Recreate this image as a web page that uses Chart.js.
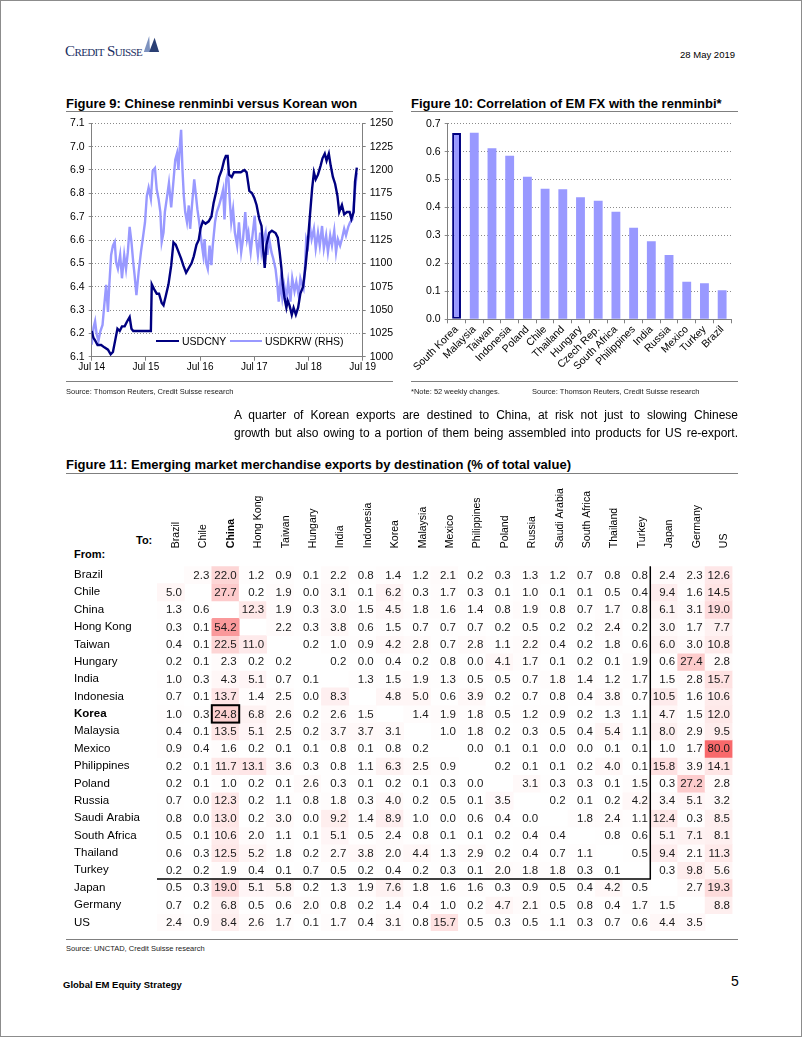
<!DOCTYPE html>
<html>
<head>
<meta charset="utf-8">
<script src="https://cdn.jsdelivr.net/npm/chart.js@4.4.1/dist/chart.umd.min.js"></script>
<style>
    html, body { margin: 0; padding: 0; background: #fff; }
    #page { position: relative; width: 802px; height: 1037px; box-sizing: border-box; border: 1px solid #8c8c8c;
            font-family: "Liberation Sans", Arial, sans-serif; color: #000; overflow: hidden; }
    .abs { position: absolute; white-space: nowrap; }
    .title { font-weight: bold; font-size: 13px; }
    .rule { position: absolute; height: 0; border-top: 1.5px solid #7f7f7f; }
    .src { font-size: 7.5px; color: #222; }
    canvas { position: absolute; }
    .para { position: absolute; left: 233px; width: 504px; font-size: 12px; line-height: 18px;
            text-align: justify; text-align-last: justify; white-space: nowrap; }
</style>
</head>
<body>
<div id="page">
    <div class="abs" style="left:64px; top:42px; font-family:'Liberation Serif','DejaVu Serif',serif; font-variant:small-caps; font-size:15px; color:#1b2f63; letter-spacing:-0.6px;">Credit Suisse</div>
    <svg class="abs" style="left:141px; top:34px;" width="18" height="18" viewBox="0 0 20 20">
        <path d="M2 19 L8 1 L9 19 Z" fill="#7d92bf"/>
        <path d="M8 19 L14 3 L19 19 Z" fill="#2a3f73"/>
    </svg>
    <div class="abs" style="right:66px; top:48px; font-size:9.5px;">28 May 2019</div>

    <div class="abs title" style="left:65px; top:95px;">Figure 9: Chinese renminbi versus Korean won</div>
    <div class="rule" style="left:65px; top:110px; width:327px;"></div>
    <div class="abs title" style="left:410px; top:95px;">Figure 10: Correlation of EM FX with the renminbi*</div>
    <div class="rule" style="left:410px; top:110px; width:327px;"></div>

    <canvas id="fxChart" width="340" height="265" style="left:60px; top:112px;"></canvas>
    <div class="abs" style="left:155px; top:339px; width:23px; border-top:2.5px solid #000080;"></div>
    <div class="abs" style="left:181px; top:334px; font-size:10.5px;">USDCNY</div>
    <div class="abs" style="left:229px; top:339px; width:32px; border-top:2.5px solid #9999ff;"></div>
    <div class="abs" style="left:264px; top:334px; font-size:10.5px;">USDKRW (RHS)</div>

    <canvas id="corrChart" width="335" height="272" style="left:405px; top:112px;"></canvas>

    <div class="rule" style="left:65px; top:380px; width:327px;"></div>
    <div class="abs src" style="left:65px; top:386px;">Source: Thomson Reuters, Credit Suisse research</div>
    <div class="rule" style="left:410px; top:380px; width:327px;"></div>
    <div class="abs src" style="left:410px; top:386px;">*Note: 52 weekly changes.</div>
    <div class="abs src" style="left:531px; top:386px;">Source: Thomson Reuters, Credit Suisse research</div>

    <div class="para" style="top:405px;">A quarter of Korean exports are destined to China, at risk not just to slowing Chinese</div>
    <div class="para" style="top:423px;">growth but also owing to a portion of them being assembled into products for US re-export.</div>

    <div class="abs title" style="left:65px; top:456px;">Figure 11: Emerging market merchandise exports by destination (% of total value)</div>
    <div class="rule" style="left:65px; top:472px; width:672px;"></div>
    <div class="abs" style="left:135px; top:533px; font-size:11px; font-weight:bold;">To:</div>
    <div class="abs" style="left:73px; top:547px; font-size:11px; font-weight:bold;">From:</div>

    <canvas id="tradeChart" width="678" height="462" style="left:62px; top:475px;"></canvas>

    <div class="rule" style="left:65px; top:938px; width:672px;"></div>
    <div class="abs src" style="left:65px; top:943px;">Source: UNCTAD, Credit Suisse research</div>

    <div class="abs" style="left:62px; top:978px; font-size:9.5px; font-weight:bold;">Global EM Equity Strategy</div>
    <div class="abs" style="left:730px; top:972px; font-size:14px;">5</div>
</div>

<script>
// Figure 9: months since Jul 2014
const fxTickLabels = ['Jul 14', 'Jul 15', 'Jul 16', 'Jul 17', 'Jul 18', 'Jul 19'];

const cnyMonths = [0, 0.4, 0.75, 1.3, 2.1, 2.8, 3.6, 4.2, 4.7, 5.2,
    5.7, 6.2, 6.7, 7.3, 7.8, 8.4, 8.8, 9.2, 9.9, 10.7,
    11.4, 12.1, 13.1, 13.3, 13.8, 14.4, 14.9, 15.5, 15.9, 16.4,
    17.0, 17.6, 18.1, 18.6, 19.2, 19.8, 20.3, 20.9, 21.5, 22.1,
    22.6, 23.2, 23.7, 24.1, 24.6, 25.2, 25.9, 26.5, 27.0, 27.6,
    28.2, 28.8, 29.3, 29.7, 30.1, 30.4, 31.0, 31.5, 32.3, 33.0,
    33.8, 34.3, 34.9, 35.5, 36.0, 36.5, 37.1, 37.6, 38.0, 38.3,
    38.7, 39.3, 39.9, 40.7, 41.2, 41.6, 42.0, 42.3, 42.7, 43.1,
    43.4, 43.8, 44.3, 44.7, 45.2, 45.7, 46.2, 46.8, 47.3, 47.8,
    48.3, 48.8, 49.2, 49.6, 50.1, 50.7, 51.1, 51.6, 52.0, 52.5,
    52.9, 53.4, 53.9, 54.4, 54.8, 55.4, 55.9, 56.5, 57.1, 57.5,
    58.0, 58.3, 58.7];
const cnyValues = [6.21, 6.18, 6.17, 6.15, 6.15, 6.14, 6.13, 6.11, 6.12, 6.17,
    6.22, 6.21, 6.23, 6.23, 6.25, 6.27, 6.22, 6.21, 6.21, 6.21,
    6.21, 6.21, 6.21, 6.41, 6.39, 6.37, 6.37, 6.33, 6.32, 6.36,
    6.41, 6.49, 6.59, 6.58, 6.55, 6.52, 6.49, 6.46, 6.48, 6.50,
    6.53, 6.58, 6.60, 6.65, 6.68, 6.67, 6.68, 6.70, 6.76, 6.81,
    6.87, 6.90, 6.94, 6.96, 6.96, 6.88, 6.87, 6.89, 6.89, 6.89,
    6.90, 6.89, 6.81, 6.80, 6.78, 6.75, 6.69, 6.66, 6.55, 6.48,
    6.58, 6.63, 6.64, 6.63, 6.61, 6.55, 6.48, 6.41, 6.35, 6.31,
    6.34, 6.32, 6.28, 6.31, 6.28, 6.31, 6.37, 6.40, 6.48, 6.58,
    6.70, 6.82, 6.89, 6.86, 6.88, 6.92, 6.95, 6.97, 6.94, 6.97,
    6.92, 6.87, 6.84, 6.79, 6.72, 6.75, 6.71, 6.72, 6.72, 6.69,
    6.72, 6.85, 6.91];

const krwMonths = [0, 0.4, 0.75, 1.1, 1.5, 1.9, 2.4, 2.8, 3.2, 3.6,
    3.9, 4.3, 4.7, 5.1, 5.4, 5.8, 6.3, 6.7, 7.2, 7.6,
    8.0, 8.4, 8.8, 9.2, 9.5, 9.9, 10.4, 10.9, 11.3, 11.8,
    12.2, 12.6, 13.1, 13.5, 14.0, 14.4, 14.8, 15.2, 15.5, 15.9,
    16.2, 16.7, 17.1, 17.6, 18.1, 18.5, 18.9, 19.2, 19.6, 19.8,
    20.1, 20.4, 20.7, 21.1, 21.5, 21.8, 22.2, 22.7, 23.1, 23.4,
    23.8, 24.3, 24.7, 25.0, 25.3, 25.7, 26.1, 26.5, 26.8, 27.3,
    27.7, 28.2, 28.6, 29.1, 29.4, 29.8, 30.2, 30.6, 30.9, 31.3,
    31.7, 32.2, 32.6, 33.1, 33.5, 34.0, 34.4, 34.7, 35.2, 35.6,
    36.1, 36.4, 36.8, 37.3, 37.6, 38.0, 38.5, 38.9, 39.3, 39.8,
    40.2, 40.7, 41.1, 41.4, 41.8, 42.2, 42.6, 43.1, 43.5, 44.0,
    44.4, 44.9, 45.3, 45.8, 46.2, 46.6, 46.9, 47.2, 47.5, 47.9,
    48.3, 48.7, 49.2, 49.6, 50.1, 50.5, 51.0, 51.4, 51.9, 52.3,
    52.8, 53.2, 53.7, 54.1, 54.5, 55.0, 55.4, 55.9, 56.3, 56.8,
    57.2, 57.7, 58.0, 58.3, 58.7];
const krwValues = [1013, 1031, 1038, 1024, 1017, 1027, 1034, 1056, 1077, 1048,
    1077, 1109, 1119, 1123, 1101, 1094, 1109, 1084, 1109, 1094,
    1112, 1139, 1123, 1101, 1087, 1066, 1091, 1112, 1126, 1144,
    1172, 1181, 1169, 1199, 1202, 1179, 1169, 1155, 1123, 1133,
    1155, 1172, 1186, 1160, 1188, 1211, 1218, 1200, 1232, 1243,
    1200, 1172, 1155, 1144, 1162, 1137, 1162, 1190, 1172, 1158,
    1144, 1123, 1109, 1126, 1101, 1094, 1119, 1098, 1119, 1144,
    1155, 1162, 1169, 1179, 1147, 1190, 1197, 1165, 1144, 1158,
    1133, 1119, 1144, 1112, 1126, 1155, 1126, 1133, 1112, 1130,
    1151, 1126, 1109, 1133, 1112, 1123, 1133, 1109, 1126, 1112,
    1105, 1094, 1077, 1059, 1080, 1063, 1077, 1063, 1080, 1059,
    1084, 1070, 1080, 1066, 1084, 1077, 1073, 1094, 1126, 1119,
    1140, 1126, 1137, 1116, 1133, 1119, 1140, 1116, 1130, 1112,
    1130, 1119, 1135, 1112, 1126, 1119, 1126, 1137, 1130, 1139,
    1144, 1147, 1162, 1179, 1197];

// Figure 10
const corrCountries = ['South Korea', 'Malaysia', 'Taiwan', 'Indonesia', 'Poland', 'Chile', 'Thailand', 'Hungary',
    'Czech Rep.', 'South Africa', 'Philippines', 'India', 'Russia', 'Mexico', 'Turkey', 'Brazil'];
const corrValues = [0.667, 0.668, 0.612, 0.585, 0.51, 0.467, 0.465, 0.437, 0.424, 0.385, 0.328, 0.279, 0.23, 0.134, 0.129, 0.104];

// Figure 11
const destinations = ['Brazil', 'Chile', 'China', 'Hong Kong', 'Taiwan', 'Hungary', 'India', 'Indonesia', 'Korea',
    'Malaysia', 'Mexico', 'Philippines', 'Poland', 'Russia', 'Saudi Arabia', 'South Africa', 'Thailand', 'Turkey',
    'Japan', 'Germany', 'US'];
const origins = ['Brazil', 'Chile', 'China', 'Hong Kong', 'Taiwan', 'Hungary', 'India', 'Indonesia', 'Korea',
    'Malaysia', 'Mexico', 'Philippines', 'Poland', 'Russia', 'Saudi Arabia', 'South Africa', 'Thailand', 'Turkey',
    'Japan', 'Germany', 'US'];
const exportShares = [
    [null, 2.3, 22.0, 1.2, 0.9, 0.1, 2.2, 0.8, 1.4, 1.2, 2.1, 0.2, 0.3, 1.3, 1.2, 0.7, 0.8, 0.8, 2.4, 2.3, 12.6],
    [5.0, null, 27.7, 0.2, 1.9, 0.0, 3.1, 0.1, 6.2, 0.3, 1.7, 0.3, 0.1, 1.0, 0.1, 0.1, 0.5, 0.4, 9.4, 1.6, 14.5],
    [1.3, 0.6, null, 12.3, 1.9, 0.3, 3.0, 1.5, 4.5, 1.8, 1.6, 1.4, 0.8, 1.9, 0.8, 0.7, 1.7, 0.8, 6.1, 3.1, 19.0],
    [0.3, 0.1, 54.2, null, 2.2, 0.3, 3.8, 0.6, 1.5, 0.7, 0.7, 0.7, 0.2, 0.5, 0.2, 0.2, 2.4, 0.2, 3.0, 1.7, 7.7],
    [0.4, 0.1, 22.5, 11.0, null, 0.2, 1.0, 0.9, 4.2, 2.8, 0.7, 2.8, 1.1, 2.2, 0.4, 0.2, 1.8, 0.6, 6.0, 3.0, 10.8],
    [0.2, 0.1, 2.3, 0.2, 0.2, null, 0.2, 0.0, 0.4, 0.2, 0.8, 0.0, 4.1, 1.7, 0.1, 0.2, 0.1, 1.9, 0.6, 27.4, 2.8],
    [1.0, 0.3, 4.3, 5.1, 0.7, 0.1, null, 1.3, 1.5, 1.9, 1.3, 0.5, 0.5, 0.7, 1.8, 1.4, 1.2, 1.7, 1.5, 2.8, 15.7],
    [0.7, 0.1, 13.7, 1.4, 2.5, 0.0, 8.3, null, 4.8, 5.0, 0.6, 3.9, 0.2, 0.7, 0.8, 0.4, 3.8, 0.7, 10.5, 1.6, 10.6],
    [1.0, 0.3, 24.8, 6.8, 2.6, 0.2, 2.6, 1.5, null, 1.4, 1.9, 1.8, 0.5, 1.2, 0.9, 0.2, 1.3, 1.1, 4.7, 1.5, 12.0],
    [0.4, 0.1, 13.5, 5.1, 2.5, 0.2, 3.7, 3.7, 3.1, null, 1.0, 1.8, 0.2, 0.3, 0.5, 0.4, 5.4, 1.1, 8.0, 2.9, 9.5],
    [0.9, 0.4, 1.6, 0.2, 0.1, 0.1, 0.8, 0.1, 0.8, 0.2, null, 0.0, 0.1, 0.1, 0.0, 0.0, 0.1, 0.1, 1.0, 1.7, 80.0],
    [0.2, 0.1, 11.7, 13.1, 3.6, 0.3, 0.8, 1.1, 6.3, 2.5, 0.9, null, 0.2, 0.1, 0.1, 0.2, 4.0, 0.1, 15.8, 3.9, 14.1],
    [0.2, 0.1, 1.0, 0.2, 0.1, 2.6, 0.3, 0.1, 0.2, 0.1, 0.3, 0.0, null, 3.1, 0.3, 0.3, 0.1, 1.5, 0.3, 27.2, 2.8],
    [0.7, 0.0, 12.3, 0.2, 1.1, 0.8, 1.8, 0.3, 4.0, 0.2, 0.5, 0.1, 3.5, null, 0.2, 0.1, 0.2, 4.2, 3.4, 5.1, 3.2],
    [0.8, 0.0, 13.0, 0.2, 3.0, 0.0, 9.2, 1.4, 8.9, 1.0, 0.0, 0.6, 0.4, 0.0, null, 1.8, 2.4, 1.1, 12.4, 0.3, 8.5],
    [0.5, 0.1, 10.6, 2.0, 1.1, 0.1, 5.1, 0.5, 2.4, 0.8, 0.1, 0.1, 0.2, 0.4, 0.4, null, 0.8, 0.6, 5.1, 7.1, 8.1],
    [0.6, 0.3, 12.5, 5.2, 1.8, 0.2, 2.7, 3.8, 2.0, 4.4, 1.3, 2.9, 0.2, 0.4, 0.7, 1.1, null, 0.5, 9.4, 2.1, 11.3],
    [0.2, 0.2, 1.9, 0.4, 0.1, 0.7, 0.5, 0.2, 0.4, 0.2, 0.3, 0.1, 2.0, 1.8, 1.8, 0.3, 0.1, null, 0.3, 9.8, 5.6],
    [0.5, 0.3, 19.0, 5.1, 5.8, 0.2, 1.3, 1.9, 7.6, 1.8, 1.6, 1.6, 0.3, 0.9, 0.5, 0.4, 4.2, 0.5, null, 2.7, 19.3],
    [0.7, 0.2, 6.8, 0.5, 0.6, 2.0, 0.8, 0.2, 1.4, 0.4, 1.0, 0.2, 4.7, 2.1, 0.5, 0.8, 0.4, 1.7, 1.5, null, 8.8],
    [2.4, 0.9, 8.4, 2.6, 1.7, 0.1, 1.7, 0.4, 3.1, 0.8, 15.7, 0.5, 0.3, 0.5, 1.1, 0.3, 0.7, 0.6, 4.4, 3.5, null]
];

Chart.defaults.font.family = '"Liberation Sans", Arial, sans-serif';
Chart.defaults.color = '#000';
Chart.defaults.animation = false;

const axisGrey = '#808080';

// ---- Figure 9 ----
new Chart(document.getElementById('fxChart'), {
    type: 'line',
    data: {
        datasets: [
            {
                label: 'USDCNY',
                data: cnyMonths.map((m, i) => ({ x: m, y: cnyValues[i] })),
                borderColor: '#000080', borderWidth: 2.4, pointRadius: 0, yAxisID: 'y'
            },
            {
                label: 'USDKRW (RHS)',
                data: krwMonths.map((m, i) => ({ x: m, y: krwValues[i] })),
                borderColor: '#9999ff', borderWidth: 2.4, pointRadius: 0, yAxisID: 'y1'
            }
        ]
    },
    options: {
        responsive: false,
        layout: { padding: { top: 8 } },
        plugins: { legend: { display: false }, tooltip: { enabled: false } },
        scales: {
            x: {
                type: 'linear', min: 0, max: 60,
                ticks: { stepSize: 12, maxRotation: 0, padding: 1, font: { size: 10 },
                         callback: v => fxTickLabels[v / 12] },
                grid: { drawOnChartArea: false, tickLength: 4, color: axisGrey },
                border: { color: axisGrey },
                afterFit: a => { a.height = 21.3; }
            },
            y: {
                min: 6.1, max: 7.1,
                ticks: { stepSize: 0.1, padding: 4, font: { size: 10.5 }, callback: v => v.toFixed(1) },
                grid: { color: '#8a8a8a', tickLength: 3 },
                border: { color: axisGrey, dash: [1, 2] },
                afterFit: a => { a.width = 30.7; }
            },
            y1: {
                position: 'right', min: 1000, max: 1250,
                ticks: { stepSize: 25, padding: 4, font: { size: 10.5 }, callback: v => String(v) },
                grid: { drawOnChartArea: false, tickLength: 3, color: axisGrey },
                border: { color: axisGrey },
                afterFit: a => { a.width = 38.3; }
            }
        }
    }
});

// ---- Figure 10 ----
new Chart(document.getElementById('corrChart'), {
    type: 'bar',
    data: {
        labels: corrCountries,
        datasets: [{
            data: corrValues,
            backgroundColor: '#9999ff',
            borderColor: corrCountries.map((c, i) => i === 0 ? '#000080' : 'rgba(0,0,0,0)'),
            borderWidth: corrCountries.map((c, i) => i === 0 ? 2 : 0),
            borderSkipped: false,
            barPercentage: 0.5,
            categoryPercentage: 1
        }]
    },
    options: {
        responsive: false,
        layout: { padding: { top: 10.7, right: 10 } },
        plugins: { legend: { display: false }, tooltip: { enabled: false } },
        scales: {
            x: {
                ticks: { minRotation: 45, maxRotation: 45, autoSkip: false, padding: 0, font: { size: 10.5 } },
                grid: { drawOnChartArea: false, tickLength: 4, color: axisGrey },
                border: { color: axisGrey },
                afterFit: a => { a.height = 65.7; }
            },
            y: {
                min: 0, max: 0.7,
                ticks: { stepSize: 0.1, padding: 4, font: { size: 10.5 }, callback: v => v.toFixed(1) },
                grid: { color: '#8a8a8a', tickLength: 3 },
                border: { color: axisGrey, dash: [1, 2] },
                afterFit: a => { a.width = 41.7; }
            }
        }
    }
});

// ---- Figure 11 ----
function heat(v) {
    if (v === null) return 'rgba(0,0,0,0)';
    const t = Math.min(v / 80, 1);
    const r = Math.round(255 - 7 * t), g = Math.round(255 - 150 * t), b = Math.round(255 - 148 * t);
    return `rgb(${r},${g},${b})`;
}

const cellLabels = {
    id: 'cellLabels',
    afterDatasetsDraw(chart) {
        const { ctx, scales: { x, y } } = chart;
        const cw = x.width / destinations.length;
        const rh = Math.abs(y.getPixelForValue(1) - y.getPixelForValue(0));
        ctx.save();
        ctx.font = '11.5px "Liberation Sans", Arial, sans-serif';
        ctx.fillStyle = '#1a1a1a';
        ctx.textAlign = 'right';
        ctx.textBaseline = 'middle';
        exportShares.forEach((row, r) => {
            row.forEach((v, c) => {
                if (v === null) return;
                ctx.fillText(v.toFixed(1), x.getPixelForValue(c) + cw / 2 - 2.5, y.getPixelForValue(r) + 0.5);
            });
        });
        // frame around the EM-to-EM block
        const xr = x.getPixelForValue(17) + cw / 2;
        const yb = y.getPixelForValue(17) + rh / 2;
        ctx.strokeStyle = '#000';
        ctx.lineWidth = 1.5;
        ctx.beginPath();
        ctx.moveTo(xr, y.getPixelForValue(0) - rh / 2);
        ctx.lineTo(xr, yb);
        ctx.lineTo(x.left, yb);
        ctx.stroke();
        // Korea -> China highlight
        ctx.lineWidth = 2;
        ctx.strokeRect(x.getPixelForValue(2) - cw / 2, y.getPixelForValue(8) - rh / 2, cw, rh);
        ctx.restore();
    }
};

new Chart(document.getElementById('tradeChart'), {
    type: 'bar',
    data: {
        labels: destinations,
        datasets: origins.map((name, r) => ({
            label: name,
            data: exportShares[r].map(v => v === null ? null : [r - 0.5, r + 0.5]),
            backgroundColor: exportShares[r].map(heat),
            borderWidth: 0,
            grouped: false,
            barPercentage: 1,
            categoryPercentage: 1
        }))
    },
    options: {
        responsive: false,
        layout: { padding: { left: 11, right: 8.5, bottom: 2.2 } },
        plugins: { legend: { display: false }, tooltip: { enabled: false } },
        scales: {
            x: {
                position: 'top',
                ticks: {
                    minRotation: 90, maxRotation: 90, autoSkip: false, padding: 18, labelOffset: 18,
                    font: c => ({ size: 10.5, weight: c.index === 2 ? 'bold' : 'normal' })
                },
                grid: { display: false, drawTicks: false },
                border: { display: false },
                afterFit: a => { a.height = 90.2; }
            },
            y: {
                reverse: true, min: -0.5, max: 20.5,
                afterBuildTicks: a => { a.ticks = origins.map((o, i) => ({ value: i })); },
                ticks: {
                    crossAlign: 'far', padding: 0,
                    callback: v => origins[v],
                    font: c => ({ size: 11.5, weight: c.index === 8 ? 'bold' : 'normal' })
                },
                grid: { display: false, drawTicks: false },
                border: { display: false },
                afterFit: a => { a.width = 83; }
            }
        }
    },
    plugins: [cellLabels]
});
</script>
</body>
</html>
